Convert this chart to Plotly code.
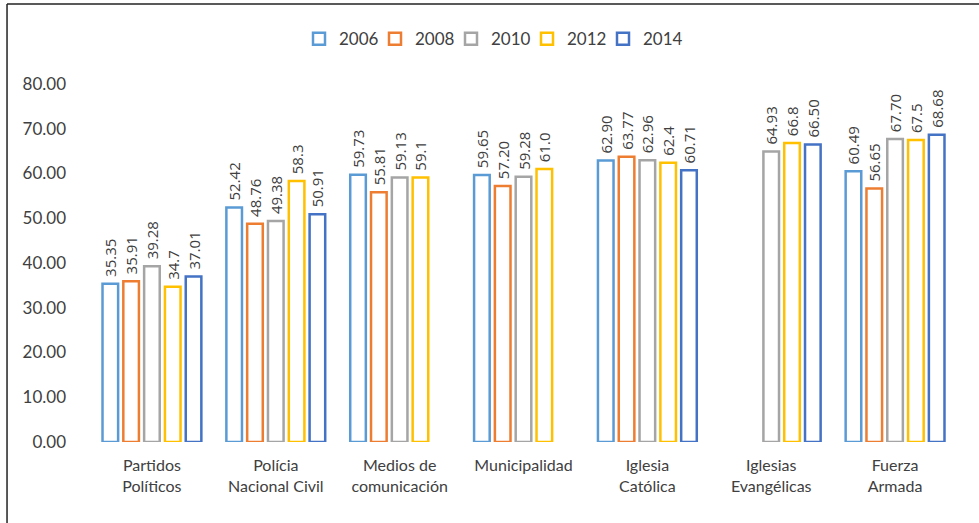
import plotly.graph_objects as go

categories = ["Partidos<br>Políticos", "Polícia<br>Nacional Civil", "Medios de<br>comunicación",
              "Municipalidad", "Iglesia<br>Católica", "Iglesias<br>Evangélicas", "Fuerza<br>Armada"]
years = ["2006", "2008", "2010", "2012", "2014"]
v2006 = [35.35, 52.42, 59.73, 59.65, 62.90, None, 60.49]
v2008 = [35.91, 48.76, 55.81, 57.20, 63.77, None, 56.65]
v2010 = [39.28, 49.38, 59.13, 59.28, 62.96, 64.93, 67.70]
v2012 = [34.7, 58.3, 59.1, 61.0, 62.4, 66.8, 67.5]
v2014 = [37.01, 50.91, None, None, 60.71, 66.50, 68.68]
t2006 = ["35.35", "52.42", "59.73", "59.65", "62.90", "", "60.49"]
t2008 = ["35.91", "48.76", "55.81", "57.20", "63.77", "", "56.65"]
t2010 = ["39.28", "49.38", "59.13", "59.28", "62.96", "64.93", "67.70"]
t2012 = ["34.7", "58.3", "59.1", "61.0", "62.4", "66.8", "67.5"]
t2014 = ["37.01", "50.91", "", "", "60.71", "66.50", "68.68"]
yticks = [0, 10, 20, 30, 40, 50, 60, 70, 80]

series = [v2006, v2008, v2010, v2012, v2014]
texts = [t2006, t2008, t2010, t2012, t2014]
colors = ["#5B9BD5", "#ED7D31", "#A5A5A5", "#FFC000", "#4472C4"]

L, R, T, B = 90, 22, 84, 81
W, H = 979, 523
plot_w = W - L - R

fig = go.Figure()
legend_layout = {}
for i, (name, vals, txt, col) in enumerate(zip(years, series, texts, colors)):
    lname = "legend" if i == 0 else f"legend{i + 1}"
    fig.add_trace(go.Bar(
        name=name, x=categories, y=vals, text=txt,
        texttemplate="\u00a0%{text}",
        textposition="outside", textangle=-90, constraintext="none",
        textfont=dict(family="Open Sans", size=15, color="#404040"),
        marker=dict(color="white", line=dict(color=col, width=2.5)),
        cliponaxis=False, legend=lname,
    ))
    left_px = 299 + 76 * i
    legend_layout[lname] = dict(
        orientation="h", x=(left_px - L) / plot_w, xanchor="left",
        y=0.925, yanchor="middle", yref="container",
        font=dict(size=17, color="#404040"), itemwidth=30,
        bgcolor="rgba(0,0,0,0)",
    )

fig.update_layout(
    width=W, height=H,
    paper_bgcolor="white", plot_bgcolor="white",
    margin=dict(l=L, r=R, t=T, b=B, autoexpand=False),
    barmode="group", bargap=0.16, bargroupgap=0.25,
    font=dict(family="Lato", size=16, color="#404040"),
    showlegend=True,
    xaxis=dict(showline=False, showgrid=False, ticks="", tickfont=dict(size=16),
               ticklabelstandoff=12),
    yaxis=dict(range=[0, 80], tickvals=yticks, tickformat=".2f", showgrid=False,
               showline=False, zeroline=False, tickfont=dict(size=17),
               ticklabelstandoff=23),
    **legend_layout,
)

# frame lines
fig.add_shape(type="line", xref="paper", yref="paper", x0=-0.0957, x1=1.03, y0=1.2235, y1=1.2235,
              line=dict(color="#222222", width=1.5))
fig.add_shape(type="line", xref="paper", yref="paper", x0=-0.0957, x1=-0.0957, y0=1.2235, y1=-0.3,
              line=dict(color="#222222", width=1.5))

fig.write_html("out.html", config={"displayModeBar": False},
               post_script="document.body.style.margin='0';")
